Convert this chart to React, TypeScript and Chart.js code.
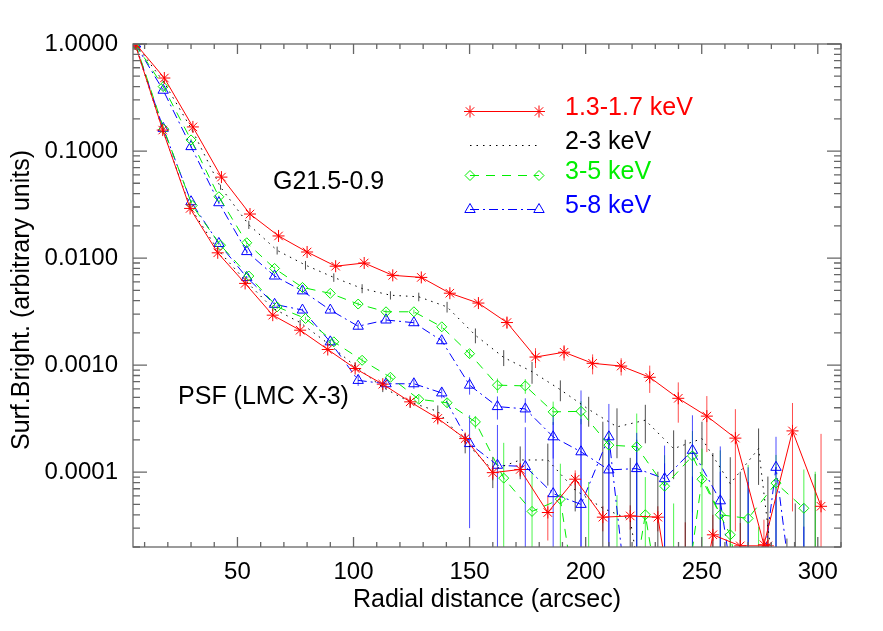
import React, { useEffect, useRef } from 'react';
import { Chart, registerables } from 'chart.js';
import { drawPoint } from 'chart.js/helpers';

Chart.register(...registerables);

// value used for points that fall below the plot floor
const OFF = 1e-6;

// radial bin centres (arcsec) as they sit on the picture
const radiiRedSrc = [6.2, 18.5, 30.8, 43.1, 55.4, 67.7, 80.0, 92.3, 104.6, 116.9, 129.2, 141.5, 153.8, 166.1, 178.4, 190.7, 203.0, 215.3, 227.6, 239.9, 252.2, 264.5, 276.8, 289.1, 301.4];
const radiiWide = [6.1, 18.3, 30.5, 42.7, 54.9, 67.1, 79.3, 91.5, 103.7, 115.9, 128.1, 140.3, 152.5, 164.7, 176.9, 189.1, 201.3, 213.5, 225.7, 237.9, 250.1, 262.3, 274.5, 286.7, 298.9];
const radiiMid = [6, 18, 30, 42, 54, 66, 78, 90, 102, 114, 126, 138, 150, 162, 174, 186, 198, 210, 222, 234, 246, 258, 270, 282, 294];
const radiiPsf = [5.9, 17.8, 29.6, 41.5, 53.3, 65.2, 77.0, 88.9, 100.7, 112.6, 124.4, 136.3, 148.1, 160.0, 171.8, 183.7, 195.5, 207.4, 219.2, 231.1, 242.9, 254.8, 266.6, 278.5, 290.3];

// G21.5-0.9 profiles
const redSrc = [1.0, 0.481, 0.168, 0.0571, 0.0258, 0.0161, 0.0114, 0.0084, 0.009, 0.0069, 0.0066, 0.0047, 0.0038, 0.0025, 0.00119, 0.00132, 0.00104, 0.00098, 0.00077, 0.00049, 0.000334, 0.000208, 0.000021, 0.000243, 0.000048];
const redSrcErr = [0, 0.01, 0.004, 0.0015, 0.0008, 0.0005, 0.0004, 0.0003, 0.0004, 0.0003, 0.0003, 0.0003, 0.0003, 0.0003, 0.00025, 0.00022, 0.00022, 0.00018, 0.00022, 0.0002, 0.00018, 0.00018, 0.000015, 0.0002, 0.00018];
const blackSrc = [1.0, 0.44, 0.157, 0.046, 0.0205, 0.0118, 0.0086, 0.0066, 0.0052, 0.0045, 0.00435, 0.0035, 0.0019, 0.00118, 0.00087, 0.00059, 0.000386, 0.000265, 0.000306, 0.000166, 0.000206, 0.000078, 0.000166, OFF, OFF];
const blackSrcErr = [0, 0.01, 0.004, 0.0025, 0.0018, 0.001, 0.0008, 0.0006, 0.0005, 0.0004, 0.0004, 0.0004, 0.0003, 0.0002, 0.0002, 0.00013, 0.00012, 0.00013, 0.00012, 0.00008, 0.00009, 0.00006, 0.00009, 0.000023, 0.000095];
const greenSrc = [1.0, 0.4, 0.127, 0.0374, 0.0139, 0.008, 0.00532, 0.00468, 0.00372, 0.00315, 0.00315, 0.00228, 0.00128, 0.00065, 0.00064, 0.000366, 0.00037, 0.000179, 0.000173, 0.000074, 0.000142, 0.00004, 0.000037, 0.000079, 0.000046];
const greenSrcErr = [0, 0.008, 0.003, 0.001, 0.0005, 0.0003, 0.0002, 0.0002, 0.00015, 0.00015, 0.00015, 0.00012, 0.0001, 0.0001, 0.0001, 0.00009, 0.00009, 0.00006, 0.00018, 0.00007, 0.0001, 0.00012, 0.00008, 0.000066, 0.00006];
const blueSrc = [1.0, 0.37, 0.11, 0.0329, 0.0115, 0.0068, 0.00494, 0.00327, 0.00231, 0.00264, 0.00249, 0.00169, 0.00065, 0.00041, 0.00039, 0.000214, 0.000155, 0.000105, 0.000108, 0.000087, 0.00016, 0.000054, OFF, 0.000111, OFF];
const blueSrcErr = [0, 0.008, 0.003, 0.001, 0.0005, 0.0003, 0.0002, 0.00015, 0.00015, 0.00015, 0.00015, 0.00012, 0.00012, 0.0001, 0.0001, 0.00008, 0.00016, 0.0001, 0.000125, 0.00009, 0.00018, 0.00012, 0.00011, 0.000103, 0.00003];

// PSF (LMC X-3) profiles
const redPsf = [1.0, 0.157, 0.0291, 0.0112, 0.0058, 0.00293, 0.00212, 0.0014, 0.00093, 0.000664, 0.000454, 0.000318, 0.000206, 0.000099, 0.000106, 0.000042, 0.000086, 0.000038, 0.000039, 0.000038, OFF, 0.000026, 0.0000205, 0.0000205, OFF];
const redPsfErr = [0, 0.004, 0.001, 0.0004, 0.0002, 0.0001, 0.00008, 0.00006, 0.00005, 0.00004, 0.00003, 0.00003, 0.00002, 0.000015, 0.000015, 0.000019, 0.000018, 0.00001, 0.00001, 0.00001, 0.000033, 0.000014, 0.000013, 0.000016, 0.00001];
const blackPsf = [1.0, 0.157, 0.03, 0.012, 0.0062, 0.0034, 0.0025, 0.0016, 0.00098, 0.00062, 0.00045, 0.00037, 0.00019, 0.000105, 0.00013, 0.00013, 0.000068, 0.000046, 0.000036, OFF, OFF, OFF, OFF, OFF, OFF];
const blackPsfErr = [0, 0.003, 0.001, 0.0004, 0.0003, 0.0002, 0.00015, 0.0001, 0.00008, 0.00006, 0.00005, 0.00005, 0.00004, 0.000034, 0.000044, 0.000055, 0.000025, 0.00025, 0.0001, 0.0001, 0.0002, 0.00015, 0.0001, 0.00009, 0.00005];
const greenPsf = [1.0, 0.16, 0.031, 0.0132, 0.0068, 0.0035, 0.00273, 0.00165, 0.00111, 0.00077, 0.00048, 0.000445, 0.000295, 0.000088, 0.000043, 0.000056, OFF, OFF, 0.00004, OFF, 0.000086, 0.000026, OFF, OFF, OFF];
const greenPsfErr = [0, 0.003, 0.001, 0.0004, 0.0002, 0.00015, 0.0001, 0.00008, 0.00006, 0.00005, 0.00004, 0.00004, 0.00004, 0.0001, 0.00006, 0.000064, 0.00008, 0.00006, 0.00005, 0.00005, 0.00008, 0.00003, 0.00003, 0.00001, 0.0001];
const bluePsf = [1.0, 0.163, 0.0336, 0.0137, 0.0066, 0.0037, 0.00327, 0.00165, 0.00072, 0.00067, 0.00067, 0.00055, 0.000185, 0.000116, 0.000113, 0.000063, 0.00005, 0.000214, OFF, OFF, OFF, OFF, OFF, OFF, OFF];
const bluePsfErr = [0, 0.003, 0.001, 0.0004, 0.0002, 0.00015, 0.0001, 0.00008, 0.00008, 0.00007, 0.00007, 0.00006, 0.000155, 0.00016, 0.00015, 0.00028, 0.00053, 0.00022, 0.0002, 0.00012, 0.00009, 0.0001, 0.00008, 0.00006, 0.00005];

const bandLabels = ['1.3-1.7 keV', '2-3 keV', '3-5 keV', '5-8 keV'];
const xTickValues = [50, 100, 150, 200, 250, 300];
const yTickValues = [0.0001, 0.001, 0.01, 0.1, 1];

const FONT = '"Liberation Sans", Arial, Helvetica, sans-serif';
const RED = '#ff0000';
const BLACK = '#000000';
const GREEN = '#00ee00';
const BLUE = '#0000ff';
const AXIS = '#666666';

const makeSet = (label: string, xs: number[], ys: number[], errs: number[], color: string, extra: any) => ({
  label,
  data: xs.map((x, i) => ({ x, y: ys[i] })),
  errors: errs,
  borderColor: color,
  backgroundColor: 'rgba(0,0,0,0)',
  pointBorderColor: color,
  pointBackgroundColor: 'rgba(0,0,0,0)',
  borderWidth: 1,
  pointBorderWidth: 1,
  tension: 0,
  fill: false,
  ...extra
});

const redStyle = { pointStyle: 'star', pointRadius: 6 };
const blackStyle = { pointRadius: 0, borderDash: [1.5, 5] };
const greenStyle = { pointStyle: 'rectRot', pointRadius: 5, borderDash: [9, 7] };
const blueStyle = { pointStyle: 'triangle', pointRadius: 6, borderDash: [9, 4, 2, 4] };

// vertical error bars, drawn through the chart's own scales
const errorBars = {
  id: 'errorBars',
  beforeDatasetsDraw(chart: any) {
    const { ctx, chartArea: a, scales: { x, y } } = chart;
    ctx.save();
    ctx.beginPath();
    ctx.rect(a.left, a.top, a.right - a.left, a.bottom - a.top);
    ctx.clip();
    ctx.lineWidth = 1;
    ctx.globalAlpha = 0.7;
    chart.data.datasets.forEach((ds: any) => {
      if (!ds.errors) return;
      ctx.strokeStyle = ds.borderColor;
      ds.data.forEach((p: any, i: number) => {
        const s = ds.errors[i];
        if (!s) return;
        const px = x.getPixelForValue(p.x);
        const top = y.getPixelForValue(p.y + s);
        const lo = p.y - s;
        const bot = lo > 0 ? y.getPixelForValue(lo) : a.bottom + 5;
        ctx.beginPath();
        ctx.moveTo(px, top);
        ctx.lineTo(px, bot);
        ctx.stroke();
      });
    });
    ctx.restore();
  }
};

// box frame with inward ticks on all four sides
const frameTicks = {
  id: 'frameTicks',
  afterDraw(chart: any) {
    const { ctx, chartArea: a, scales: { x, y } } = chart;
    ctx.save();
    ctx.strokeStyle = AXIS;
    ctx.lineWidth = 1.3;
    ctx.strokeRect(a.left, a.top, a.right - a.left, a.bottom - a.top);
    ctx.beginPath();
    for (let v = 10; v <= 310; v += 10) {
      const px = x.getPixelForValue(v);
      const len = v % 50 === 0 ? 10 : 5;
      ctx.moveTo(px, a.bottom);
      ctx.lineTo(px, a.bottom - len);
      ctx.moveTo(px, a.top);
      ctx.lineTo(px, a.top + len);
    }
    for (let d = -5; d <= 0; d++) {
      for (let m = 1; m <= 9; m++) {
        const v = m * Math.pow(10, d);
        if (v < 2e-5 || v > 1) continue;
        const py = y.getPixelForValue(v);
        const len = m === 1 ? 14 : 7;
        ctx.moveTo(a.left, py);
        ctx.lineTo(a.left + len, py);
        ctx.moveTo(a.right, py);
        ctx.lineTo(a.right - len, py);
      }
    }
    ctx.stroke();
    ctx.restore();
  }
};

// key in the upper right plus the two curve captions and the y title
const annotations = {
  id: 'annotations',
  afterDraw(chart: any) {
    const { ctx, chartArea: a, scales: { x, y } } = chart;
    ctx.save();
    ctx.font = `25px ${FONT}`;
    ctx.textBaseline = 'middle';
    ctx.textAlign = 'left';
    ctx.fillStyle = BLACK;
    ctx.fillText('G21.5-0.9', x.getPixelForValue(65.3), y.getPixelForValue(0.051));
    ctx.fillText('PSF (LMC X-3)', x.getPixelForValue(24.4), y.getPixelForValue(0.0005));

    const rows = [64, 98, 128, 162];
    const x0 = a.left + 337;
    const x1 = a.left + 406;
    const tx = a.left + 432;
    chart.data.datasets.filter((ds: any) => bandLabels.includes(ds.label)).forEach((ds: any, i: number) => {
      const ty = a.top + rows[i];
      const ly = ty + 3.5;
      ctx.strokeStyle = ds.borderColor;
      ctx.lineWidth = 1;
      ctx.setLineDash(ds.borderDash || []);
      ctx.beginPath();
      ctx.moveTo(x0, ly);
      ctx.lineTo(x1, ly);
      ctx.stroke();
      ctx.setLineDash([]);
      if (ds.pointRadius > 0) {
        ctx.fillStyle = 'rgba(0,0,0,0)';
        const opts = { pointStyle: ds.pointStyle, radius: ds.pointRadius, rotation: 0, borderWidth: 1 };
        drawPoint(ctx, opts, x0, ly);
        drawPoint(ctx, opts, x1, ly);
      }
      ctx.fillStyle = ds.borderColor;
      ctx.fillText(ds.label, tx, ty);
    });

    ctx.save();
    ctx.translate(22, 300);
    ctx.rotate(-Math.PI / 2);
    ctx.textAlign = 'center';
    ctx.fillStyle = BLACK;
    ctx.font = `25px ${FONT}`;
    ctx.fillText('Surf.Bright. (arbitrary units)', 0, 0);
    ctx.restore();
    ctx.restore();
  }
};

const ProfileChart: React.FC = () => {
  const canvasRef = useRef<HTMLCanvasElement | null>(null);
  const chartRef = useRef<Chart | null>(null);

  useEffect(() => {
    if (!canvasRef.current) return;
    if (chartRef.current) chartRef.current.destroy();

    const datasets: any[] = [
      makeSet(bandLabels[0], radiiRedSrc, redSrc, redSrcErr, RED, redStyle),
      makeSet('psf ' + bandLabels[0], radiiPsf, redPsf, redPsfErr, RED, redStyle),
      makeSet(bandLabels[1], radiiWide, blackSrc, blackSrcErr, BLACK, blackStyle),
      makeSet('psf ' + bandLabels[1], radiiPsf, blackPsf, blackPsfErr, BLACK, blackStyle),
      makeSet(bandLabels[2], radiiMid, greenSrc, greenSrcErr, GREEN, greenStyle),
      makeSet('psf ' + bandLabels[2], radiiWide, greenPsf, greenPsfErr, GREEN, greenStyle),
      makeSet(bandLabels[3], radiiMid, blueSrc, blueSrcErr, BLUE, blueStyle),
      makeSet('psf ' + bandLabels[3], radiiMid, bluePsf, bluePsfErr, BLUE, blueStyle)
    ];

    chartRef.current = new Chart(canvasRef.current, {
      type: 'line',
      data: { datasets },
      plugins: [errorBars, frameTicks, annotations],
      options: {
        responsive: true,
        maintainAspectRatio: false,
        animation: false,
        events: [],
        layout: { padding: { left: 0, top: 44, right: 42, bottom: 0 } },
        plugins: {
          legend: { display: false },
          tooltip: { enabled: false },
          title: { display: false }
        },
        scales: {
          x: {
            type: 'linear',
            min: 5,
            max: 310,
            afterBuildTicks: (s: any) => { s.ticks = xTickValues.map((v) => ({ value: v })); },
            afterFit: (s: any) => { s.height = 84; },
            grid: { display: false, drawTicks: false },
            border: { display: false },
            ticks: { color: BLACK, font: { family: FONT, size: 24 }, padding: 11, maxRotation: 0 },
            title: {
              display: true,
              text: 'Radial distance (arcsec)',
              color: BLACK,
              font: { family: FONT, size: 25 },
              padding: { top: 0, bottom: 16 }
            }
          },
          y: {
            type: 'logarithmic',
            min: 2e-5,
            max: 1,
            afterBuildTicks: (s: any) => { s.ticks = yTickValues.map((v) => ({ value: v })); },
            afterFit: (s: any) => { s.width = 133; },
            grid: { display: false, drawTicks: false },
            border: { display: false },
            ticks: {
              color: BLACK,
              font: { family: FONT, size: 24 },
              padding: 15,
              callback: (v: any) => Number(v).toFixed(4)
            }
          }
        }
      } as any
    });

    return () => {
      if (chartRef.current) {
        chartRef.current.destroy();
        chartRef.current = null;
      }
    };
  }, []);

  return (
    <div style={{ position: 'absolute', left: 0, top: 0, width: 883, height: 631, background: '#fff' }}>
      <canvas ref={canvasRef} />
    </div>
  );
};

export default function App() {
  return <ProfileChart />;
}
